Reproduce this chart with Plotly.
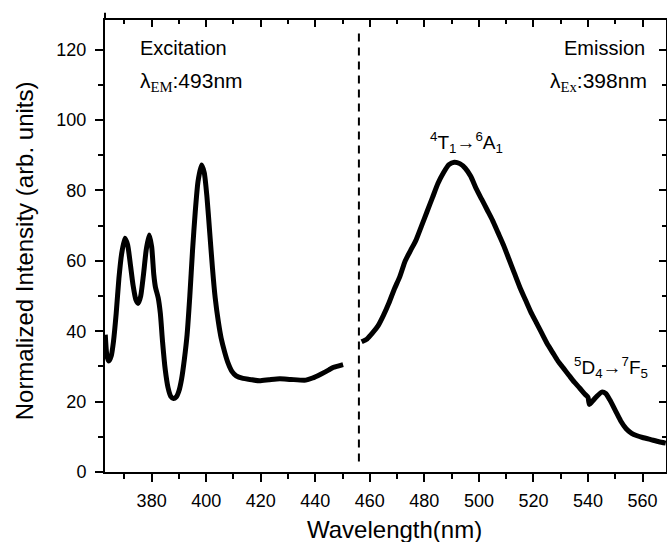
import plotly.graph_objects as go

# Excitation spectrum (lambda_EM = 493 nm)
exc_wl = [363, 363.6, 364.3, 365.2, 366, 367, 368, 369, 370.2, 371.2, 372.2, 373.2, 374.2, 375.1,
          376, 377, 378, 379.1, 380, 380.8, 381.4, 382.4, 383.2, 384, 385, 386, 387, 388, 389,
          390, 391, 392, 393, 394, 395, 396, 397, 398.3, 399.3, 400.3, 401.3, 402.3, 403.3,
          404.5, 405.5, 406.8, 408, 409.5, 411, 413.5, 416, 419.5, 423, 427, 431, 436.5, 439,
          442, 445, 446.5, 448.3, 450.2]
exc_int = [39, 33, 31.5, 33, 37, 45, 55, 62, 66.4, 64.5, 59, 53, 49, 47.9,
           50, 56, 63, 67.3, 64, 56, 52.5, 49.5, 45, 37, 29, 24, 21.5, 20.9, 21.3,
           23, 26.5, 32, 39, 50, 63, 74, 82.5, 87.2, 85, 78, 68, 58, 49.5,
           42.5, 38, 34, 31, 28.5, 27.3, 26.6, 26.3, 25.9, 26.2, 26.5, 26.3, 26.1, 26.7,
           27.8, 29, 29.7, 30.1, 30.5]

# Emission spectrum (lambda_Ex = 398 nm)
emi_wl = [457, 459, 461, 463, 465, 467, 469, 471, 473, 475, 477, 479, 481, 483, 485, 487, 489,
          491, 493, 495, 497, 499, 501, 503, 505, 507, 509, 511, 513, 515, 517, 519, 521, 523,
          525, 527, 529, 531, 533, 535, 537, 539, 540, 540.5, 541.5, 543, 545, 546.5, 548, 550,
          552, 554, 556, 558, 560, 563, 566, 568.5]
emi_int = [37.0, 37.8, 39.5, 41.5, 44.5, 48, 52, 55.5, 60, 63, 66, 70, 74, 78, 82, 85, 87.3,
           88.0, 87.6, 86.3, 84, 80.5, 77.5, 74.5, 71.5, 68, 64.5, 60.5, 56.5, 52.5, 49, 45.5, 42.5, 39.5,
           36.5, 34, 31.5, 29.5, 27.5, 25.5, 23.8, 22, 21.2, 19.2, 20.0, 21.3, 22.7, 22.3, 20.5, 17.5,
           14.5, 12.3, 11, 10.3, 9.8, 9.2, 8.6, 8.2]

# Divider between the two spectra
divider_x = [456, 456]
divider_y = [3, 125.5]

x_range = [362.9, 568.6]
y_range = [0, 128.4]
x_ticks = [380, 400, 420, 440, 460, 480, 500, 520, 540, 560]
y_ticks = [0, 20, 40, 60, 80, 100, 120]

FONT = "Liberation Sans, Arial, sans-serif"
SERIF = "Liberation Serif, Times New Roman, serif"

fig = go.Figure()
fig.add_trace(go.Scatter(x=exc_wl, y=exc_int, mode="lines",
                         line=dict(color="black", width=5, shape="spline", smoothing=0.6),
                         showlegend=False, hoverinfo="skip"))
fig.add_trace(go.Scatter(x=emi_wl, y=emi_int, mode="lines",
                         line=dict(color="black", width=5, shape="spline", smoothing=0.6),
                         showlegend=False, hoverinfo="skip"))
fig.add_trace(go.Scatter(x=divider_x, y=divider_y, mode="lines",
                         line=dict(color="black", width=2, dash="8px,6px"),
                         showlegend=False, hoverinfo="skip"))
# invisible trace to host the mirrored (top/right) axes
fig.add_trace(go.Scatter(x=divider_x, y=divider_y, mode="lines", xaxis="x2", yaxis="y2",
                         line=dict(color="rgba(0,0,0,0)", width=0),
                         showlegend=False, hoverinfo="skip"))

common = dict(showgrid=False, zeroline=False, linecolor="black", linewidth=2,
              tickcolor="black", tickwidth=2)

fig.update_layout(
    width=667, height=542,
    margin=dict(l=105, r=1, t=20, b=70),
    paper_bgcolor="white", plot_bgcolor="white",
    font=dict(family=FONT, color="black", size=18),
    xaxis=dict(range=x_range, tickvals=x_ticks, ticks="outside", ticklen=8,
               showline=True, tickfont=dict(size=18, family=FONT), ticklabelstandoff=3,
               minor=dict(dtick=10, tick0=0, ticks="outside", ticklen=5, tickwidth=2,
                          tickcolor="black"),
               **common),
    yaxis=dict(range=y_range, tickvals=y_ticks, ticks="outside", ticklen=8,
               showline=True, tickfont=dict(size=18, family=FONT), ticklabelstandoff=5,
               minor=dict(dtick=10, tick0=0, ticks="outside", ticklen=5, tickwidth=2,
                          tickcolor="black"),
               **common),
    xaxis2=dict(range=x_range, tickvals=x_ticks, ticks="inside", ticklen=7, overlaying="x",
                side="top", anchor="y", showline=True, showticklabels=False,
                minor=dict(dtick=10, tick0=0, ticks="inside", ticklen=4, tickwidth=2,
                           tickcolor="black"),
                **common),
    yaxis2=dict(range=y_range, tickvals=y_ticks, ticks="inside", ticklen=7, overlaying="y",
                side="right", anchor="x", showline=True, showticklabels=False,
                minor=dict(dtick=10, tick0=0, ticks="inside", ticklen=4, tickwidth=2,
                           tickcolor="black"),
                **common),
)

# left axis line slightly overshoots the top frame
fig.add_shape(type="line", xref="paper", yref="paper", x0=0, x1=0, y0=1, y1=1.016,
              line=dict(color="black", width=2))

ann = []
ann.append(dict(text="Wavelength(nm)", xref="paper", yref="paper", x=0.516, y=-0.128,
                xanchor="center", yanchor="middle", showarrow=False,
                font=dict(size=24, family=FONT)))
ann.append(dict(text="Normalized Intensity (arb. units)", xref="paper", yref="paper",
                x=-0.143, y=0.49, xanchor="center", yanchor="middle", textangle=-90,
                showarrow=False, font=dict(size=24, family=FONT)))
ann.append(dict(text="Excitation", x=375.0, y=120.5, xanchor="left", yanchor="middle",
                showarrow=False, font=dict(size=20, family=FONT)))
ann.append(dict(text="λ<sub><span style='font-family:Liberation Serif'>EM</span></sub>:493nm",
                x=375.0, y=110.8, xanchor="left", yanchor="middle",
                showarrow=False, font=dict(size=21, family=FONT)))
ann.append(dict(text="Emission", x=561.7, y=120.5, xanchor="right", yanchor="middle",
                showarrow=False, font=dict(size=20, family=FONT)))
ann.append(dict(text="λ<sub><span style='font-family:Liberation Serif'>Ex</span></sub>:398nm",
                x=562.4, y=110.8, xanchor="right", yanchor="middle",
                showarrow=False, font=dict(size=21, family=FONT)))
ann.append(dict(text="<sup>4</sup>T<sub>1</sub>→<sup>6</sup>A<sub>1</sub>", x=495.5, y=93.5,
                xanchor="center", yanchor="middle", showarrow=False,
                font=dict(size=19, family=FONT)))
ann.append(dict(text="<sup>5</sup>D<sub>4</sub>→<sup>7</sup>F<sub>5</sub>", x=548.5, y=29.8,
                xanchor="center", yanchor="middle", showarrow=False,
                font=dict(size=19, family=FONT)))
fig.update_layout(annotations=ann)

fig.write_html("out.html")
